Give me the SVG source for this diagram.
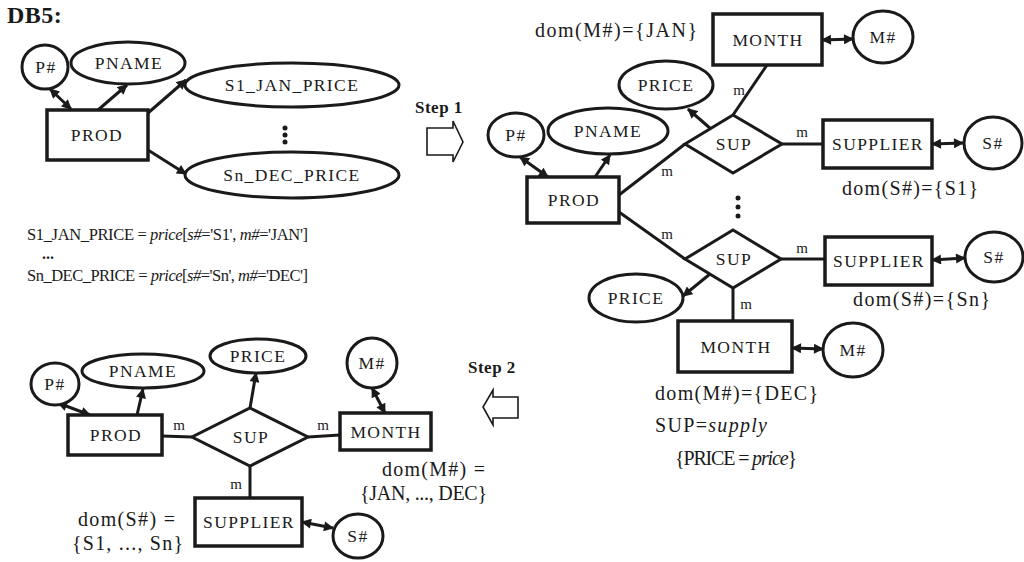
<svg xmlns="http://www.w3.org/2000/svg" width="1024" height="562" viewBox="0 0 1024 562" font-family="'Liberation Serif', 'Times New Roman', serif">
<style>
.bg{fill:#fff}
.box{fill:#fff;stroke:#1a1a1a;stroke-width:3.5}
.ell{fill:#fff;stroke:#1a1a1a;stroke-width:3}
.dia{fill:#fff;stroke:#1a1a1a;stroke-width:3}
.ln{fill:none;stroke:#1a1a1a;stroke-width:3}
.arr{fill:none;stroke:#1a1a1a;stroke-width:3;marker-end:url(#ah)}
.dbl{fill:none;stroke:#1a1a1a;stroke-width:3;marker-start:url(#ah);marker-end:url(#ah)}
.step{fill:#fff;stroke:#1a1a1a;stroke-width:1.6}
text{font-family:'Liberation Serif','Times New Roman',serif;fill:#1a1a1a}
.lbl{font-family:'Liberation Serif',serif;font-size:17.5px;text-anchor:middle;letter-spacing:1.4px}
.m{font-family:'Liberation Serif',serif;font-size:15px;text-anchor:middle}
.t{font-family:'Liberation Serif',serif;font-size:20px}
.f{font-family:'Liberation Serif',serif;font-size:16.5px}
.b{font-family:'Liberation Serif',serif;font-weight:bold}
</style>
<defs>
<marker id="ah" viewBox="0 0 10 10" refX="9" refY="5" markerWidth="11" markerHeight="10" markerUnits="userSpaceOnUse" orient="auto-start-reverse">
<path d="M0,0 L10,5 L0,10 z" fill="#1a1a1a"/>
</marker>
</defs>
<rect class="bg" x="0" y="0" width="1024" height="562"/>

<text class="b" x="7" y="23" font-size="24" letter-spacing="0.5">DB5:</text>

<!-- connectors -->
<g id="connectors">
<line class="dbl" x1="50" y1="89" x2="71" y2="109"/>
<line class="arr" x1="98" y1="110" x2="127" y2="85"/>
<line class="arr" x1="148" y1="113" x2="186" y2="80"/>
<line class="arr" x1="148" y1="150" x2="186" y2="174"/>
<line class="dbl" x1="520" y1="157" x2="548" y2="177"/>
<line class="arr" x1="595" y1="177" x2="610" y2="155"/>
<line class="ln" x1="619" y1="195" x2="685" y2="144"/>
<line class="ln" x1="619" y1="212" x2="685" y2="259"/>
<line class="ln" x1="767" y1="65" x2="733" y2="115"/>
<line class="arr" x1="711" y1="129" x2="688" y2="109"/>
<line class="dbl" x1="822" y1="40" x2="853" y2="39"/>
<line class="ln" x1="782" y1="144" x2="823" y2="144"/>
<line class="dbl" x1="932" y1="144" x2="963" y2="143"/>
<line class="ln" x1="781" y1="259" x2="825" y2="259"/>
<line class="dbl" x1="932" y1="260" x2="965" y2="258"/>
<line class="arr" x1="710" y1="274" x2="683" y2="296"/>
<line class="ln" x1="733" y1="288" x2="733" y2="321"/>
<line class="dbl" x1="792" y1="348" x2="823" y2="349"/>
<line class="dbl" x1="58" y1="403" x2="90" y2="415"/>
<line class="arr" x1="137" y1="415" x2="143" y2="389"/>
<line class="arr" x1="250" y1="408" x2="256" y2="373"/>
<line class="dbl" x1="385" y1="413" x2="372" y2="388"/>
<line class="dbl" x1="302" y1="522" x2="333" y2="528"/>
<line class="ln" x1="162" y1="436" x2="192" y2="437"/>
<line class="ln" x1="308" y1="437" x2="340" y2="435"/>
<line class="ln" x1="250" y1="466" x2="250" y2="498"/>
</g>

<g id="tl_pnum"><ellipse class="ell" cx="45" cy="67" rx="23" ry="22"/><text class="lbl" x="46" y="73">P#</text></g>
<g id="tl_pname"><ellipse class="ell" cx="128" cy="63" rx="57" ry="21"/><text class="lbl" x="129" y="69">PNAME</text></g>
<g id="tl_s1jan"><ellipse class="ell" cx="292" cy="85" rx="107" ry="22"/><text class="lbl" x="292" y="91">S1_JAN_PRICE</text></g>
<g id="tl_sndec"><ellipse class="ell" cx="292" cy="175" rx="107" ry="23"/><text class="lbl" x="292" y="181">Sn_DEC_PRICE</text></g>
<g id="tl_prod"><rect class="box" x="47" y="110" width="101" height="50"/><text class="lbl" x="97" y="141">PROD</text></g>
<g id="tl_dots" fill="#1a1a1a"><circle cx="285" cy="128" r="2.5"/><circle cx="285" cy="135" r="2.5"/><circle cx="285" cy="142" r="2.5"/></g>

<g id="formulas">
<text class="f" x="27" y="240" textLength="281" lengthAdjust="spacing">S1_JAN_PRICE = <tspan font-style="italic">price</tspan>[<tspan font-style="italic">s#</tspan>='S1', <tspan font-style="italic">m#</tspan>='JAN']</text>
<text class="b" x="42" y="259" font-size="16">...</text>
<text class="f" x="27" y="281" textLength="281" lengthAdjust="spacing">Sn_DEC_PRICE = <tspan font-style="italic">price</tspan>[<tspan font-style="italic">s#</tspan>='Sn', <tspan font-style="italic">m#</tspan>='DEC']</text>
</g>

<g id="step1">
<text class="b" x="415" y="113" font-size="17" letter-spacing="0.5">Step 1</text>
<polygon class="step" points="427,128 453,128 453,121 463,142 453,162 453,155 427,155"/>
</g>

<text class="t" x="535" y="37" textLength="162" lengthAdjust="spacing">dom(M#)={JAN}</text>
<g id="tr_month1"><rect class="box" x="713" y="14" width="109" height="51"/><text class="lbl" x="768" y="46">MONTH</text></g>
<g id="tr_mnum1"><ellipse class="ell" cx="883" cy="37" rx="30" ry="26"/><text class="lbl" x="883" y="43">M#</text></g>
<g id="tr_price1"><ellipse class="ell" cx="666" cy="85" rx="47" ry="24"/><text class="lbl" x="666" y="91">PRICE</text></g>
<g id="tr_pnum"><ellipse class="ell" cx="516" cy="135" rx="28" ry="22"/><text class="lbl" x="516" y="141">P#</text></g>
<g id="tr_pname"><ellipse class="ell" cx="608" cy="131" rx="60" ry="23"/><text class="lbl" x="608" y="137">PNAME</text></g>
<g id="tr_prod"><rect class="box" x="527" y="177" width="92" height="46"/><text class="lbl" x="574" y="206">PROD</text></g>
<g id="tr_sup1"><polygon class="dia" points="733,115 782,144 733,173 685,144"/><text class="lbl" x="734" y="150">SUP</text></g>
<g id="tr_supplier1"><rect class="box" x="823" y="120" width="109" height="48"/><text class="lbl" x="878" y="150">SUPPLIER</text></g>
<g id="tr_snum1"><ellipse class="ell" cx="993" cy="143" rx="29" ry="26"/><text class="lbl" x="993" y="149">S#</text></g>
<text class="t" x="842" y="195" textLength="136" lengthAdjust="spacing">dom(S#)={S1}</text>
<g id="tr_dots" fill="#1a1a1a"><circle cx="738" cy="198" r="2.5"/><circle cx="738" cy="207" r="2.5"/><circle cx="738" cy="216" r="2.5"/></g>
<g id="tr_sup2"><polygon class="dia" points="733,230 781,259 733,288 685,259"/><text class="lbl" x="734" y="265">SUP</text></g>
<g id="tr_supplier2"><rect class="box" x="825" y="237" width="107" height="48"/><text class="lbl" x="879" y="267">SUPPLIER</text></g>
<g id="tr_snum2"><ellipse class="ell" cx="994" cy="257" rx="29" ry="25"/><text class="lbl" x="994" y="263">S#</text></g>
<text class="t" x="853" y="306" textLength="137" lengthAdjust="spacing">dom(S#)={Sn}</text>
<g id="tr_price2"><ellipse class="ell" cx="636" cy="298" rx="47" ry="24"/><text class="lbl" x="636" y="304">PRICE</text></g>
<g id="tr_month2"><rect class="box" x="678" y="321" width="114" height="51"/><text class="lbl" x="736" y="353">MONTH</text></g>
<g id="tr_mnum2"><ellipse class="ell" cx="853" cy="350" rx="30" ry="27"/><text class="lbl" x="853" y="356">M#</text></g>
<text class="t" x="655" y="400" textLength="163" lengthAdjust="spacing">dom(M#)={DEC}</text>
<text class="t" x="655" y="432" textLength="112" lengthAdjust="spacing">SUP=<tspan font-style="italic">supply</tspan></text>
<text class="t" x="675" y="465" font-size="18" textLength="122" lengthAdjust="spacing">{PRICE = <tspan font-style="italic">price</tspan>}</text>

<g id="m_labels">
<text class="m" x="739" y="95">m</text>
<text class="m" x="667" y="176">m</text>
<text class="m" x="802" y="137">m</text>
<text class="m" x="667" y="239">m</text>
<text class="m" x="802" y="253">m</text>
<text class="m" x="746" y="309">m</text>
<text class="m" x="179" y="430">m</text>
<text class="m" x="323" y="430">m</text>
<text class="m" x="236" y="489">m</text>
</g>

<g id="step2">
<text class="b" x="468" y="373" font-size="17" letter-spacing="0.5">Step 2</text>
<polygon class="step" points="518,397 493,397 493,390 483,407 493,425 493,418 518,418"/>
</g>

<g id="bl_pnum"><ellipse class="ell" cx="55" cy="384" rx="24" ry="21"/><text class="lbl" x="55" y="390">P#</text></g>
<g id="bl_pname"><ellipse class="ell" cx="143" cy="371" rx="61" ry="17"/><text class="lbl" x="143" y="377">PNAME</text></g>
<g id="bl_price"><ellipse class="ell" cx="258" cy="356" rx="48" ry="17"/><text class="lbl" x="258" y="362">PRICE</text></g>
<g id="bl_mnum"><ellipse class="ell" cx="372" cy="363" rx="25" ry="25"/><text class="lbl" x="372" y="369">M#</text></g>
<g id="bl_prod"><rect class="box" x="68" y="415" width="94" height="40"/><text class="lbl" x="116" y="441">PROD</text></g>
<g id="bl_sup"><polygon class="dia" points="250,408 308,437 250,466 192,437"/><text class="lbl" x="251" y="443">SUP</text></g>
<g id="bl_month"><rect class="box" x="340" y="413" width="91" height="37"/><text class="lbl" x="386" y="438">MONTH</text></g>
<g id="bl_supplier"><rect class="box" x="195" y="498" width="107" height="48"/><text class="lbl" x="249" y="528">SUPPLIER</text></g>
<g id="bl_snum"><ellipse class="ell" cx="358" cy="536" rx="25" ry="22"/><text class="lbl" x="358" y="542">S#</text></g>
<text class="t" x="78" y="526" textLength="97" lengthAdjust="spacing">dom(S#) =</text>
<text class="t" x="72" y="550" textLength="111" lengthAdjust="spacing">{S1, ..., Sn}</text>
<text class="t" x="382" y="476" textLength="103" lengthAdjust="spacing">dom(M#) =</text>
<text class="t" x="360" y="500" font-size="19" textLength="127" lengthAdjust="spacing">{JAN, ..., DEC}</text>
</svg>
